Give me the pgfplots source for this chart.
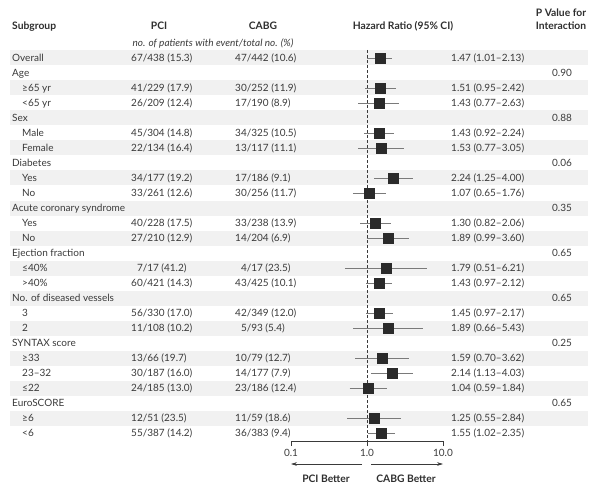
\documentclass[border=0pt]{standalone}
\usepackage{fontspec}
\setmainfont{Lato}
\usepackage{pgfplots}
\usepackage{pgfplotstable}
\pgfplotsset{compat=1.18}
\usetikzlibrary{arrows.meta}

\definecolor{txt}{HTML}{3A3A3A}
\definecolor{head}{HTML}{2E2E2E}
\definecolor{band}{HTML}{F1F1F1}
\definecolor{sq}{HTML}{2A2A2A}
\definecolor{cil}{HTML}{7A7A7A}

% row index, hazard ratio and 95% confidence limits
\pgfplotstableread{
row hr   lo   hi
1   1.47 1.01 2.13
3   1.51 0.95 2.42
4   1.43 0.77 2.63
6   1.43 0.92 2.24
7   1.53 0.77 3.05
9   2.24 1.25 4.00
10  1.07 0.65 1.76
12  1.30 0.82 2.06
13  1.89 0.99 3.60
15  1.79 0.51 6.21
16  1.43 0.97 2.12
18  1.45 0.97 2.17
19  1.89 0.66 5.43
21  1.59 0.70 3.62
22  2.14 1.13 4.03
23  1.04 0.59 1.84
25  1.25 0.55 2.84
26  1.55 1.02 2.35
}\forest

\tikzset{
  lbl/.style={anchor=base west, inner sep=0pt, yshift=-3.5pt,
              font=\fontsize{10}{12}\selectfont, text=txt},
  lblc/.style={lbl, anchor=base},
  hd/.style={anchor=base, inner sep=0pt, yshift=-3.6pt,
             font=\fontsize{10.3}{12}\selectfont\bfseries, text=head},
}
% subgroup label x, row, label, PCI, CABG, HR text
\newcommand\entry[6]{%
  \node[lbl] at (axis cs:#1,#2) {#3};
  \node[lbl] at (axis cs:131,#2) {#4};
  \node[lbl] at (axis cs:235,#2) {#5};
  \node[lbl] at (axis cs:451,#2) {#6};}
\newcommand\group[3]{%
  \node[lbl] at (axis cs:12,#1) {#2};
  \node[lblc] at (axis cs:562,#1) {#3};}

\begin{document}
\begin{tikzpicture}
\path[use as bounding box] (0pt,0pt) rectangle (601pt,494pt);
% table layer: x in points across the page, y in rows
\begin{axis}[
  at={(0pt,0pt)}, anchor=south west,
  scale only axis, width=601pt, height=494pt,
  xmin=0, xmax=601, ymin=-2.86667, ymax=30.06667, y dir=reverse,
  hide axis, clip=false]
  % alternate row shading
  \fill[band] (axis cs:10,0.5)  rectangle (axis cs:588,1.5);
  \fill[band] (axis cs:10,2.5)  rectangle (axis cs:588,3.5);
  \fill[band] (axis cs:10,4.5)  rectangle (axis cs:588,5.5);
  \fill[band] (axis cs:10,6.5)  rectangle (axis cs:588,7.5);
  \fill[band] (axis cs:10,8.5)  rectangle (axis cs:588,9.5);
  \fill[band] (axis cs:10,10.5) rectangle (axis cs:588,11.5);
  \fill[band] (axis cs:10,12.5) rectangle (axis cs:588,13.5);
  \fill[band] (axis cs:10,14.5) rectangle (axis cs:588,15.5);
  \fill[band] (axis cs:10,16.5) rectangle (axis cs:588,17.5);
  \fill[band] (axis cs:10,18.5) rectangle (axis cs:588,19.5);
  \fill[band] (axis cs:10,20.5) rectangle (axis cs:588,21.5);
  \fill[band] (axis cs:10,22.5) rectangle (axis cs:588,23.5);
  \fill[band] (axis cs:10,24.5) rectangle (axis cs:588,25.5);

  % column headings
  \node[hd, anchor=base west] at (axis cs:12,-1.1333) {Subgroup};
  \node[hd] at (axis cs:159,-1.1333) {PCI};
  \node[hd] at (axis cs:263,-1.1333) {CABG};
  \node[hd] at (axis cs:403,-1.1333) {Hazard Ratio (95\% CI)};
  \node[hd] at (axis cs:561,-2.0333) {P Value for};
  \node[hd] at (axis cs:561,-1.1333) {Interaction};
  \node[lblc, font=\fontsize{10}{12}\selectfont\itshape] at (axis cs:213,0)
    {no. of patients with event/total no. (\%)};

  \entry{12}{1}{Overall}{67/438 (15.3)}{47/442 (10.6)}{1.47 (1.01–2.13)}
  \group{2}{Age}{0.90}
  \entry{22}{3}{≥65 yr}{41/229 (17.9)}{30/252 (11.9)}{1.51 (0.95–2.42)}
  \entry{22}{4}{<65 yr}{26/209 (12.4)}{17/190 (8.9)}{1.43 (0.77–2.63)}
  \group{5}{Sex}{0.88}
  \entry{22}{6}{Male}{45/304 (14.8)}{34/325 (10.5)}{1.43 (0.92–2.24)}
  \entry{22}{7}{Female}{22/134 (16.4)}{13/117 (11.1)}{1.53 (0.77–3.05)}
  \group{8}{Diabetes}{0.06}
  \entry{22}{9}{Yes}{34/177 (19.2)}{17/186 (9.1)}{2.24 (1.25–4.00)}
  \entry{22}{10}{No}{33/261 (12.6)}{30/256 (11.7)}{1.07 (0.65–1.76)}
  \group{11}{Acute coronary syndrome}{0.35}
  \entry{22}{12}{Yes}{40/228 (17.5)}{33/238 (13.9)}{1.30 (0.82–2.06)}
  \entry{22}{13}{No}{27/210 (12.9)}{14/204 (6.9)}{1.89 (0.99–3.60)}
  \group{14}{Ejection fraction}{0.65}
  \entry{22}{15}{≤40\%}{\phantom{1}7/17 (41.2)}{\phantom{1}4/17 (23.5)}{1.79 (0.51–6.21)}
  \entry{22}{16}{>40\%}{60/421 (14.3)}{43/425 (10.1)}{1.43 (0.97–2.12)}
  \group{17}{No. of diseased vessels}{0.65}
  \entry{22}{18}{3}{56/330 (17.0)}{42/349 (12.0)}{1.45 (0.97–2.17)}
  \entry{22}{19}{2}{11/108 (10.2)}{\phantom{1}5/93 (5.4)}{1.89 (0.66–5.43)}
  \group{20}{SYNTAX score}{0.25}
  \entry{22}{21}{≥33}{13/66 (19.7)}{10/79 (12.7)}{1.59 (0.70–3.62)}
  \entry{22}{22}{23–32}{30/187 (16.0)}{14/177 (7.9)}{2.14 (1.13–4.03)}
  \entry{22}{23}{≤22}{24/185 (13.0)}{23/186 (12.4)}{1.04 (0.59–1.84)}
  \group{24}{EuroSCORE}{0.65}
  \entry{22}{25}{≥6}{12/51 (23.5)}{11/59 (18.6)}{1.25 (0.55–2.84)}
  \entry{22}{26}{<6}{55/387 (14.2)}{36/383 (9.4)}{1.55 (1.02–2.35)}

  % direction arrows and captions under the scale
  \draw[txt, line width=0.6pt, -{Stealth[length=6pt,width=3.6pt]}]
    (axis cs:362,28.0667) -- (axis cs:291,28.0667);
  \draw[txt, line width=0.6pt, -{Stealth[length=6pt,width=3.6pt]}]
    (axis cs:371,28.0667) -- (axis cs:443,28.0667);
  \node[hd] at (axis cs:326,29.0667) {PCI Better};
  \node[hd] at (axis cs:406,29.0667) {CABG Better};
\end{axis}

% hazard ratio scale
\begin{axis}[
  at={(291pt,53pt)}, anchor=south west,
  scale only axis, width=152pt, height=441pt,
  xmode=log, log basis x=10, xmin=0.1, xmax=10,
  ymin=-2.86667, ymax=26.53333, y dir=reverse,
  axis x line*=bottom, axis y line=none,
  xtick={0.1,1,10}, xticklabels={0.1,1.0,10.0},
  minor xtick={},
  tick align=outside, major tick length=5pt,
  axis line style={draw=txt, line width=0.6pt},
  tick style={draw=txt, line width=0.6pt},
  xticklabel style={font=\fontsize{10}{12}\selectfont, text=txt},
  /pgf/number format/assume math mode=true,
  clip=false]
  \addplot[txt, line width=0.7pt, dash pattern=on 3pt off 2pt]
    coordinates {(1,0.4667) (1,26.5333)};
  % confidence intervals
  \addplot[cil, line width=0.8pt] coordinates {(1.01,1) (2.13,1)};
  \addplot[cil, line width=0.8pt] coordinates {(0.95,3) (2.42,3)};
  \addplot[cil, line width=0.8pt] coordinates {(0.77,4) (2.63,4)};
  \addplot[cil, line width=0.8pt] coordinates {(0.92,6) (2.24,6)};
  \addplot[cil, line width=0.8pt] coordinates {(0.77,7) (3.05,7)};
  \addplot[cil, line width=0.8pt] coordinates {(1.25,9) (4.00,9)};
  \addplot[cil, line width=0.8pt] coordinates {(0.65,10) (1.76,10)};
  \addplot[cil, line width=0.8pt] coordinates {(0.82,12) (2.06,12)};
  \addplot[cil, line width=0.8pt] coordinates {(0.99,13) (3.60,13)};
  \addplot[cil, line width=0.8pt] coordinates {(0.51,15) (6.21,15)};
  \addplot[cil, line width=0.8pt] coordinates {(0.97,16) (2.12,16)};
  \addplot[cil, line width=0.8pt] coordinates {(0.97,18) (2.17,18)};
  \addplot[cil, line width=0.8pt] coordinates {(0.66,19) (5.43,19)};
  \addplot[cil, line width=0.8pt] coordinates {(0.70,21) (3.62,21)};
  \addplot[cil, line width=0.8pt] coordinates {(1.13,22) (4.03,22)};
  \addplot[cil, line width=0.8pt] coordinates {(0.59,23) (1.84,23)};
  \addplot[cil, line width=0.8pt] coordinates {(0.55,25) (2.84,25)};
  \addplot[cil, line width=0.8pt] coordinates {(1.02,26) (2.35,26)};
  % point estimates
  \addplot[only marks, mark=square*, mark size=5pt, draw=sq, fill=sq]
    table[x=hr, y=row] {\forest};
\end{axis}
\end{tikzpicture}
\end{document}
